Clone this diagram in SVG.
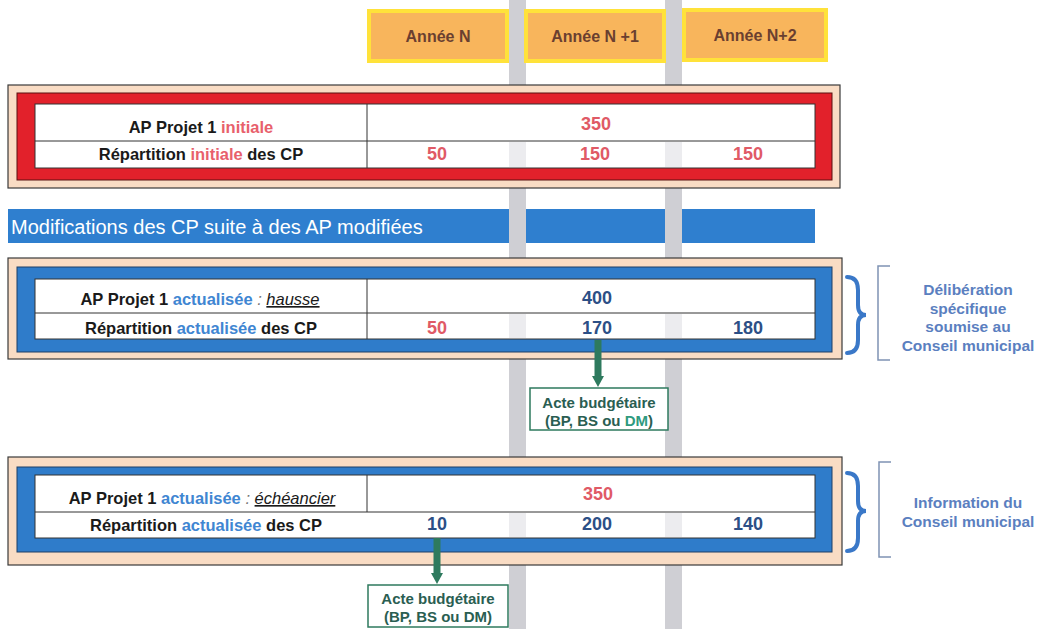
<svg xmlns="http://www.w3.org/2000/svg" width="1059" height="629" viewBox="0 0 1059 629">
<defs>
<style>
text{font-family:"Liberation Sans",Arial,sans-serif;font-weight:bold}
.hdr{fill:#f8b55c;stroke:#ffe23a;stroke-width:4}
.hdrt{fill:#6a3f30;font-size:16px;text-anchor:middle}
.bar{fill:#cfcfd4}
.outer{fill:#f9dcc4;stroke:#3a3a3a;stroke-width:1.2}
.red{fill:#e2212b;stroke:#5a1010;stroke-width:1}
.blue{fill:#2f7cca;stroke:#1e3f66;stroke-width:1}
.tbl{fill:#ffffff;stroke:#333;stroke-width:1}
.ln{stroke:#333;stroke-width:1}
.lbl{font-size:16.5px;fill:#1a1a1a;text-anchor:middle}
.pk{fill:#e8606c}
.bl{fill:#3f86d2}
.val{font-size:18px;text-anchor:middle}
.vr{fill:#e05a66}
.vb{fill:#2c4f86}
.acte{fill:#ffffff;stroke:#2e7a5e;stroke-width:1.5}
.actt{font-size:15px;fill:#2a5e52;text-anchor:middle}
.brace{fill:none;stroke:#3a78c8;stroke-width:4;stroke-linecap:round}
.brk{fill:none;stroke:#7f93b4;stroke-width:1.5}
.side{font-size:15.5px;fill:#5b7fc0;text-anchor:middle}
.shaft{stroke:#2e7a5e;stroke-width:7}
.head{fill:#2e7a5e}
</style>
</defs>

<g id="bars">
<rect class="bar" x="509" y="0" width="17" height="629"/>
<rect class="bar" x="665" y="0" width="17" height="629"/>
</g>

<g id="headers">
<g id="h-n"><rect class="hdr" x="369" y="11" width="138" height="50"/><text class="hdrt" x="438" y="42">Année N</text></g>
<g id="h-n1"><rect class="hdr" x="526" y="11" width="138" height="50"/><text class="hdrt" x="595" y="42">Année N +1</text></g>
<g id="h-n2"><rect class="hdr" x="684" y="10" width="142" height="50"/><text class="hdrt" x="755" y="41">Année N+2</text></g>
</g>

<g id="banner">
<rect x="8" y="209" width="807" height="34" fill="#2f7fcf"/>
<rect class="bar" x="509" y="205" width="17" height="42"/>
<rect class="bar" x="665" y="205" width="17" height="42"/>
<text x="11" y="234" font-size="20" fill="#ffffff" style="font-weight:normal;font-family:'Liberation Sans',Arial,sans-serif">Modifications des CP suite à des AP modifiées</text>
</g>

<g id="frame1">
<rect class="outer" x="8" y="85" width="832" height="103"/>
<rect class="red" x="17" y="93" width="815" height="87"/>
<rect class="tbl" x="35" y="104" width="780" height="64"/>
<rect x="509" y="142" width="17" height="25" fill="#ececef"/>
<rect x="665" y="142" width="17" height="25" fill="#ececef"/>
<line class="ln" x1="35" y1="141" x2="815" y2="141"/>
<line class="ln" x1="367" y1="104" x2="367" y2="168"/>
<text class="lbl" x="201" y="133">AP Projet 1 <tspan class="pk">initiale</tspan></text>
<text class="lbl" x="201" y="160">Répartition <tspan class="pk">initiale</tspan> des CP</text>
<text class="val vr" x="596" y="130">350</text>
<text class="val vr" x="437" y="160">50</text>
<text class="val vr" x="595" y="160">150</text>
<text class="val vr" x="748" y="160">150</text>
</g>

<g id="frame2">
<rect class="outer" x="8" y="258" width="834" height="101"/>
<rect class="blue" x="17" y="267" width="815" height="85"/>
<rect class="tbl" x="35" y="279" width="780" height="60"/>
<rect x="509" y="314" width="17" height="24" fill="#ececef"/>
<rect x="665" y="314" width="17" height="24" fill="#ececef"/>
<line class="ln" x1="35" y1="313" x2="815" y2="313"/>
<line class="ln" x1="367" y1="279" x2="367" y2="339"/>
<text class="lbl" x="200" y="305">AP Projet 1 <tspan class="bl">actualisée</tspan><tspan fill="#777" font-style="italic" font-weight="normal"> : </tspan><tspan font-style="italic" font-weight="normal" text-decoration="underline">hausse</tspan></text>
<text class="lbl" x="201" y="334">Répartition <tspan class="bl">actualisée</tspan> des CP</text>
<text class="val vb" x="597" y="304">400</text>
<text class="val vr" x="437" y="334">50</text>
<text class="val vb" x="597" y="334">170</text>
<text class="val vb" x="748" y="334">180</text>
</g>

<g id="frame3">
<rect class="outer" x="8" y="457" width="834" height="108"/>
<rect class="blue" x="17" y="467" width="815" height="85"/>
<rect class="tbl" x="35" y="475" width="780" height="63"/>
<rect x="509" y="513" width="17" height="24" fill="#ececef"/>
<rect x="665" y="513" width="17" height="24" fill="#ececef"/>
<line class="ln" x1="35" y1="512" x2="815" y2="512"/>
<line class="ln" x1="367" y1="475" x2="367" y2="512"/>
<text class="lbl" x="202" y="504">AP Projet 1 <tspan class="bl">actualisée</tspan><tspan fill="#777" font-style="italic" font-weight="normal"> : </tspan><tspan font-style="italic" font-weight="normal" text-decoration="underline">échéancier</tspan></text>
<text class="lbl" x="206" y="531">Répartition <tspan class="bl">actualisée</tspan> des CP</text>
<text class="val vr" x="598" y="500">350</text>
<text class="val vb" x="437" y="530">10</text>
<text class="val vb" x="597" y="530">200</text>
<text class="val vb" x="748" y="530">140</text>
</g>

<g id="connectors">
<line class="shaft" x1="598" y1="340" x2="598" y2="376"/>
<polygon class="head" points="592,376 604,376 598,387"/>
<line class="shaft" x1="437" y1="538" x2="437" y2="573"/>
<polygon class="head" points="431,573 443,573 437,584"/>
</g>

<g id="acte1">
<rect class="acte" x="530" y="388" width="138" height="42"/>
<text class="actt" x="599" y="408">Acte budgétaire</text>
<text class="actt" x="599" y="426">(BP, BS ou <tspan fill="#2f9a7f">DM</tspan>)</text>
</g>

<g id="acte2">
<rect class="acte" x="368" y="585" width="140" height="42"/>
<text class="actt" x="438" y="604">Acte budgétaire</text>
<text class="actt" x="438" y="622">(BP, BS ou DM)</text>
</g>

<g id="note1">
<path class="brace" d="M847,277 Q858,277 858,290 L858,305 Q858,315 866,315 Q858,315 858,325 L858,340 Q858,353 847,353"/>
<path class="brk" d="M890,266 L878,266 L878,360 L890,360"/>
<text class="side" x="968" y="295">Délibération</text>
<text class="side" x="968" y="314">spécifique</text>
<text class="side" x="968" y="332">soumise au</text>
<text class="side" x="968" y="351">Conseil municipal</text>
</g>

<g id="note2">
<path class="brace" d="M847,473 Q858,473 858,486 L858,501 Q858,511 866,511 Q858,511 858,521 L858,538 Q858,551 847,551"/>
<path class="brk" d="M891,462 L879,462 L879,557 L891,557"/>
<text class="side" x="968" y="508">Information du</text>
<text class="side" x="968" y="527">Conseil municipal</text>
</g>
</svg>
